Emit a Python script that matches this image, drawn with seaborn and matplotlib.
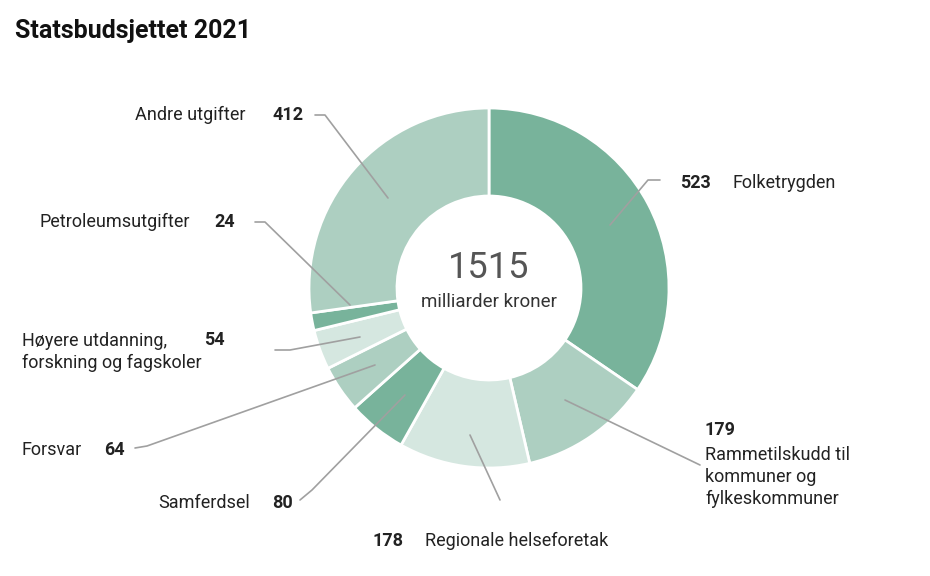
import matplotlib.pyplot as plt
import seaborn as sns

sns.set_theme(style="white")
plt.rcParams['font.family'] = ['Roboto', 'DejaVu Sans']

# data, clockwise from the top
names = ["Folketrygden", "Rammetilskudd til\nkommuner og\nfylkeskommuner", "Regionale helseforetak",
         "Samferdsel", "Forsvar", "Høyere utdanning,\nforskning og fagskoler",
         "Petroleumsutgifter", "Andre utgifter"]
values = [523, 179, 178, 80, 64, 54, 24, 412]
total = 1515

dark, mid, light = "#78b39b", "#adcfc1", "#d5e7e0"
colors = [dark, mid, light, dark, mid, light, dark, mid]

W, H = 930, 576
fig = plt.figure(figsize=(W / 100, H / 100), dpi=100)
ax = fig.add_axes([0, 0, 1, 1])

cx, cy, R = 489, H - 288, 180
wedges, _ = ax.pie(values, colors=colors, startangle=90, counterclock=False,
                   center=(cx, cy), radius=R, frame=True,
                   wedgeprops=dict(width=R - 92, edgecolor="white", linewidth=2))
ax.set_xlim(0, W)
ax.set_ylim(0, H)
ax.set_aspect("equal")
ax.axis("off")

# leader lines in pixel coords (y from top)
lines = [
    [(660, 180), (648, 180), (610, 225)],
    [(700, 465), (565, 400)],
    [(500, 500), (470, 435)],
    [(300, 500), (312, 490), (405, 395)],
    [(135, 448), (147, 446), (375, 365)],
    [(275, 350), (290, 350), (360, 337)],
    [(255, 222), (265, 222), (350, 305)],
    [(315, 115), (325, 115), (388, 198)],
]
for pts in lines:
    ax.plot([p[0] for p in pts], [H - p[1] for p in pts], color="#a0a0a0", lw=1.2)

fs = 13
def txt(x, y, s, **kw):
    ax.text(x, H - y, s, fontsize=fs, color="#222222", va="center", **kw)

txt(680, 183, str(values[0]), weight="bold")
txt(732, 183, names[0])
txt(705, 430, str(values[1]), weight="bold")
txt(705, 477, names[1], linespacing=1.3)
txt(372, 541, str(values[2]), weight="bold")
txt(425, 541, names[2])
txt(293, 503, str(values[3]), weight="bold", ha="right")
txt(250, 503, names[3], ha="right")
txt(125, 450, str(values[4]), weight="bold", ha="right")
txt(82, 450, names[4], ha="right")
txt(225, 340, str(values[5]), weight="bold", ha="right")
txt(22, 352, names[5], linespacing=1.3)
txt(235, 222, str(values[6]), weight="bold", ha="right")
txt(190, 222, names[6], ha="right")
txt(303, 115, str(values[7]), weight="bold", ha="right")
txt(245, 115, names[7], ha="right")

ax.text(cx, H - 268, str(total), fontsize=26, color="#555555", ha="center", va="center")
ax.text(cx, H - 302, "milliarder kroner", fontsize=13.5, color="#333333", ha="center", va="center")

ax.text(15, H - 31, "Statsbudsjettet 2021", fontsize=18, weight="bold", color="#111111", va="center")

fig.savefig("out.png", dpi=100)
